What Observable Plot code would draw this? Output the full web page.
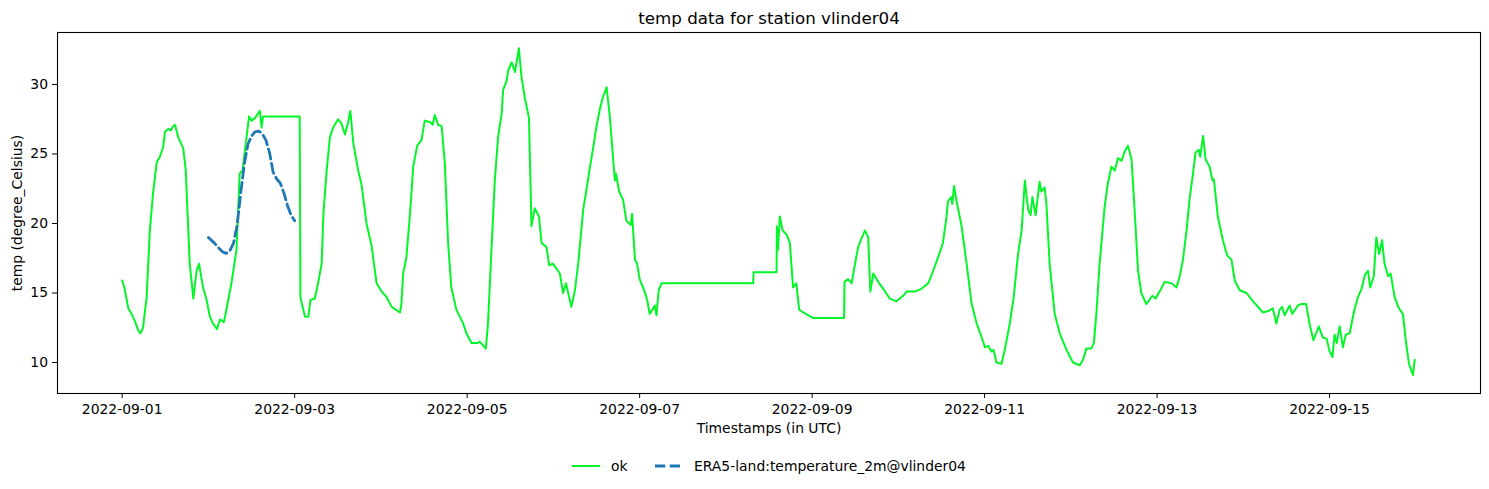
<!DOCTYPE html>
<html>
<head>
<meta charset="utf-8">
<script src="https://cdn.jsdelivr.net/npm/d3@7"></script>
<script src="https://cdn.jsdelivr.net/npm/@observablehq/plot@0.6"></script>
<style>
  html, body { margin: 0; padding: 0; background: white; }
  #wrap { position: relative; width: 1489px; height: 489px; font-family: "DejaVu Sans", sans-serif; }
  #legend { position: absolute; left: 0; top: 450px; }
</style>
</head>
<body>
<div id="wrap"></div>
<script>
const titleText = "temp data for station vlinder04";
const xLabelText = "Timestamps (in UTC)";
const yLabelText = "temp (degree_Celsius)";
const seriesNames = ["ok", "ERA5-land:temperature_2m@vlinder04"];
const xTickDates = ["2022-09-01", "2022-09-03", "2022-09-05", "2022-09-07", "2022-09-09", "2022-09-11", "2022-09-13", "2022-09-15"];
const yTicks = [10, 15, 20, 25, 30];

// hours since 2022-09-01T00:00Z
const okHours = [0,0.6,1.7,2.6,3.5,4.5,5.1,5.8,6.8,7.7,8.6,9.6,10.5,11.4,11.9,12.8,13.5,14.2,14.7,15.6,16.3,17.0,17.7,18.4,18.8,19.8,20.7,21.4,22.5,23.5,24.4,25.3,26.4,27.2,28.3,29.0,30.4,31.8,32.7,33.5,34.6,35.3,36.0,37.0,38.3,38.8,39.2,49.4,49.6,50.4,50.9,51.8,52.4,53.6,54.5,55.5,56.0,56.9,57.8,58.7,60.1,61.0,62.0,62.8,63.5,64.3,65.7,66.6,68.0,69.4,70.8,72.2,73.6,75.0,77.3,77.7,78.2,79.1,80.1,81.0,82.1,83.3,84.2,85.6,86.4,87.0,87.9,88.9,89.8,90.7,91.6,93.0,94.9,95.8,97.2,99.0,99.5,101.2,101.8,102.8,103.7,104.6,105.6,106.0,107.0,107.4,108.4,109.3,110.4,111.1,112.0,113.2,113.9,114.8,116.0,116.7,118.1,118.8,119.9,121.8,122.7,123.5,125.0,126.0,126.9,128.3,129.3,130.2,131.1,132.0,132.9,133.8,134.8,135.7,137.1,137.4,138.3,139.4,140.3,141.5,141.9,142.7,143.3,144.0,145.4,146.1,146.8,147.8,148.2,148.7,149.3,150.1,175.6,175.7,182.1,182.2,182.5,183.0,183.8,184.9,185.8,186.7,187.6,188.4,189.5,190.9,192.3,200.9,201.0,202.0,203.0,203.6,204.8,205.7,206.7,207.6,208.2,209.0,210.4,211.8,213.6,215.5,217.3,218.3,220.6,222.4,224.3,225.7,227.1,228.4,229.4,229.8,230.7,231.0,231.5,232.2,233.6,235.0,236.4,237.8,239.2,240.1,241.0,241.9,242.5,243.3,244.7,245.6,247.0,248.1,249.3,250.3,251.2,252.1,252.8,253.3,254.2,255.3,255.8,256.7,257.2,258.1,259.5,260.9,262.8,264.6,266.5,267.4,268.3,269.7,270.4,271.1,272.0,273.4,274.3,275.3,276.2,277.1,278.1,279.0,279.9,280.9,281.8,282.7,283.6,285.0,286.7,287.6,288.7,290.1,292.0,293.4,294.3,295.2,296.2,297.1,298.0,298.7,299.6,300.0,300.8,301.5,302.6,303.4,303.8,304.9,306.3,307.5,308.7,309.6,311.0,312.9,314.7,315.8,317.4,319.0,320.2,321.2,322.1,322.8,323.5,324.9,325.6,327.2,328.0,329.5,330.4,331.5,333.0,334.1,335.2,336.0,336.8,337.4,338.0,338.8,339.7,340.5,341.6,342.2,343.0,343.9,344.9,345.8,346.7,347.3,348.3,349.0,349.8,350.6,351.3,352.3,353.0,354.1,355.3,356.4,357.2,358.1,359.2,359.7];
const okTemp = [15.9,15.4,13.9,13.5,13.0,12.3,12.1,12.5,14.7,19.5,22.2,24.4,24.8,25.5,26.6,26.8,26.7,27.0,27.1,26.2,25.8,25.4,23.8,19.5,17.1,14.6,16.6,17.1,15.4,14.5,13.3,12.8,12.4,13.1,12.9,13.8,15.7,18.1,23.6,23.8,26.2,27.7,27.4,27.6,28.1,26.9,27.7,27.7,14.7,13.8,13.3,13.3,14.5,14.6,15.7,17.1,20.7,23.8,26.2,26.9,27.5,27.2,26.4,27.2,28.1,25.8,23.8,22.8,20.0,18.4,15.7,15.1,14.7,14.0,13.6,14.2,16.4,17.6,20.7,24.1,25.6,26.0,27.4,27.3,27.1,27.8,27.1,27.0,24.3,18.6,15.4,13.8,12.8,12.1,11.4,11.4,11.5,11.0,12.8,18.3,23.1,26.2,27.9,29.6,30.3,31.0,31.6,30.9,32.6,30.6,29.1,27.6,19.8,21.1,20.5,18.6,18.3,17.0,17.1,16.4,15.0,15.7,14.0,15.2,17.1,21.0,22.6,24.1,25.5,27.0,28.2,29.1,29.8,27.7,23.1,23.6,22.3,21.7,20.2,19.9,20.7,17.4,17.1,16.0,15.1,14.5,13.5,13.9,14.1,13.4,15.2,15.7,15.7,16.5,16.5,19.8,18.1,20.5,19.5,19.2,18.6,15.4,15.7,13.8,13.6,13.4,13.2,13.2,15.8,16.0,15.7,16.6,18.3,18.9,19.5,19.0,15.1,16.4,15.8,15.3,14.6,14.4,14.8,15.1,15.1,15.3,15.7,16.6,17.6,18.6,20.5,21.6,21.9,21.4,22.7,21.6,19.8,17.1,14.2,12.8,11.8,11.1,11.2,10.8,10.9,10.0,9.9,10.9,12.8,14.7,17.8,19.5,23.1,21.0,20.6,21.9,20.6,23.0,22.3,22.6,21.4,17.1,13.5,12.1,10.9,10.0,9.8,10.2,11.0,11.0,11.4,13.5,17.1,21.2,22.9,24.1,23.8,24.7,24.5,25.2,25.6,24.6,20.7,16.6,15.0,14.2,14.8,14.6,15.1,15.8,15.7,15.4,16.2,17.4,19.5,21.9,23.6,25.1,25.3,24.8,26.3,24.6,24.1,23.1,23.2,20.5,18.8,17.7,17.4,15.9,15.2,15.0,14.4,14.1,13.6,13.7,13.9,12.8,13.8,14.0,13.4,14.1,13.5,14.1,14.2,14.2,12.8,11.6,12.6,11.8,11.7,10.8,10.4,12.0,11.4,12.6,11.1,12.0,12.1,12.9,13.9,14.7,15.3,16.3,16.6,15.4,16.2,19.0,17.8,18.8,17.1,16.2,16.4,14.7,13.9,13.5,11.6,9.9,9.1,10.2];

const eraHours = [24,25,26,27,28,29,30,31,32,33,34,35,36,37,38,39,40,41,42,43,44,45,46,47,48];
const eraTemp = [19.0,18.75,18.5,18.2,17.95,17.85,18.05,18.6,19.9,22.2,24.3,25.7,26.3,26.6,26.65,26.45,26.0,25.1,23.7,23.2,22.9,22.2,21.3,20.6,20.2];

const okColor = "#05f52a";
const eraColor = "#1f77b4";

const t0 = Date.UTC(2022, 8, 1);
const toDate = h => new Date(t0 + h * 3600e3);
const ok = okHours.map((h, i) => ({t: toDate(h), v: okTemp[i]}));
const era = eraHours.map((h, i) => ({t: toDate(h), v: eraTemp[i]}));
const xTicks = xTickDates.map(s => new Date(s + "T00:00:00Z"));

const chart = Plot.plot({
  width: 1489,
  height: 489,
  marginLeft: 57,
  marginRight: 9,
  marginTop: 32,
  marginBottom: 96,
  style: {fontFamily: "DejaVu Sans", fontSize: "13.9px", color: "black", background: "white"},
  x: {type: "utc", domain: [toDate(-18), toDate(378)]},
  y: {domain: [7.77, 33.74]},
  marks: [
    Plot.axisX({ticks: xTicks, tickFormat: d3.utcFormat("%Y-%m-%d"), tickSize: 5, tickPadding: 6, label: null}),
    Plot.axisY({ticks: yTicks, tickSize: 5, tickPadding: 4.5, label: null}),
    Plot.line(ok, {x: "t", y: "v", stroke: okColor, strokeWidth: 2}),
    Plot.line(era, {x: "t", y: "v", stroke: eraColor, strokeWidth: 2.8, strokeDasharray: "10.3,4.4"}),
    Plot.frame({stroke: "black", strokeWidth: 1.1}),
    Plot.text([titleText], {text: d => d, frameAnchor: "top", lineAnchor: "middle", textAnchor: "middle", dy: -14, fontSize: 16.7}),
    Plot.text([xLabelText], {text: d => d, frameAnchor: "bottom", lineAnchor: "middle", textAnchor: "middle", dy: 35.5}),
    Plot.text([yLabelText], {text: d => d, frameAnchor: "left", lineAnchor: "middle", textAnchor: "middle", rotate: -90, dx: -39.5})
  ]
});
const wrap = document.getElementById("wrap");
wrap.appendChild(chart);

// legend
const ns = "http://www.w3.org/2000/svg";
const leg = document.createElementNS(ns, "svg");
leg.setAttribute("id", "legend");
leg.setAttribute("width", 1489);
leg.setAttribute("height", 32);
leg.innerHTML = `
  <line x1="572" x2="600" y1="16" y2="16" stroke="${okColor}" stroke-width="2"/>
  <text x="611" y="20.5" font-family="DejaVu Sans" font-size="13.9" fill="black">${seriesNames[0]}</text>
  <line x1="655" x2="683" y1="16" y2="16" stroke="${eraColor}" stroke-width="2.8" stroke-dasharray="10.3,4.4"/>
  <text x="694" y="20.5" font-family="DejaVu Sans" font-size="13.9" fill="black">${seriesNames[1]}</text>`;
wrap.appendChild(leg);
</script>
</body>
</html>
